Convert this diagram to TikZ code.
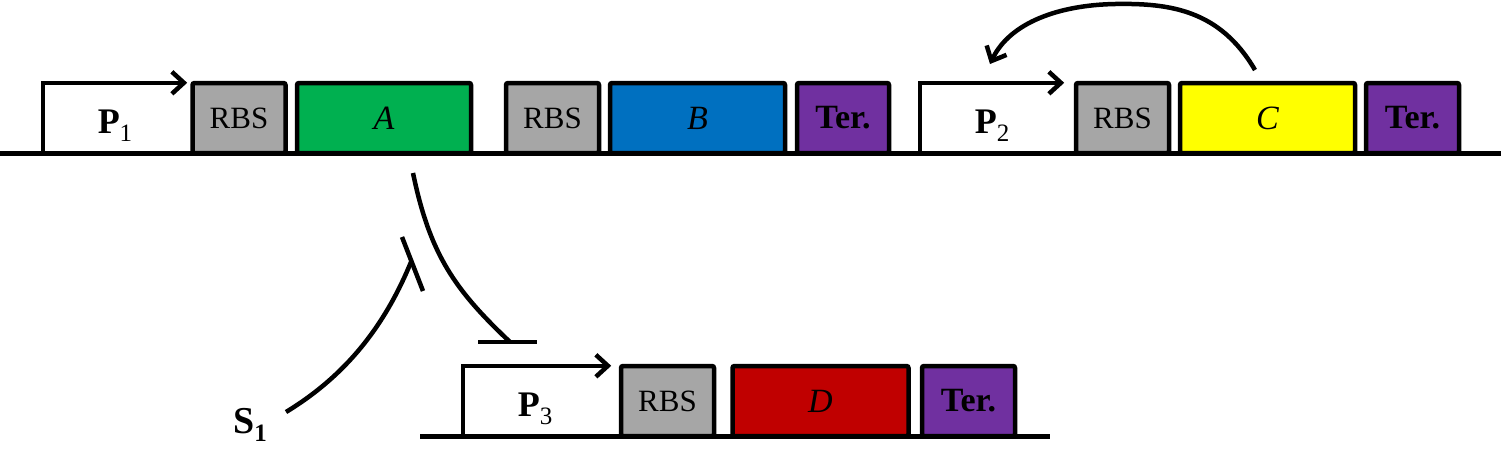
\documentclass[tikz,border=0pt]{standalone}
\usepackage{fontspec}
\setmainfont{Liberation Serif}
\usetikzlibrary{arrows.meta}
\definecolor{rbsgray}{HTML}{A6A6A6}
\definecolor{genegreen}{HTML}{00B050}
\definecolor{geneblue}{HTML}{0070C0}
\definecolor{genered}{HTML}{C00000}
\definecolor{geneyellow}{HTML}{FFFF00}
\definecolor{terpurple}{HTML}{7030A0}
\begin{document}
\begin{tikzpicture}[x=1pt,y=-1pt,
  part/.style={draw, line width=4.5pt, rounded corners=2pt, inner sep=0pt, minimum height=70pt},
  rbsbox/.style={part, fill=rbsgray, minimum width=93pt, font=\fontsize{31}{31}\selectfont},
  genebox/.style={part, minimum width=175pt, font=\fontsize{34}{34}\selectfont\itshape},
  terbox/.style={part, fill=terpurple, minimum width=93pt, font=\fontsize{34}{34}\selectfont\bfseries},
  promarea/.style={inner sep=0pt, minimum height=70pt},
  promlabel/.style={inner sep=0pt, anchor=base, font=\fontsize{36}{36}\selectfont\bfseries},
  backbone/.style={line width=5pt},
  link/.style={line width=4.5pt},
  chev/.style={-{Straight Barb[length=12pt,width=22pt]}},
]
\useasboundingbox (0,0) rectangle (1501,456);
\newcommand{\psub}[1]{\raisebox{-8pt}{\fontsize{25}{25}\selectfont\mdseries #1}}

% ---- top construct 1
\node[promarea, minimum width=150pt] (p1) at (118,118) {};
\node[rbsbox] (rbs1) at (239,118) {RBS};
\node[genebox, fill=genegreen, minimum width=174pt] (geneA) at (384,118) {A};
\node[rbsbox] (rbs2) at (552.5,118) {RBS};
\node[genebox, fill=geneblue] (geneB) at (697.5,118) {B};
\node[terbox, minimum width=92pt] (ter1) at (843,118) {Ter.};

% ---- top construct 2
\node[promarea, minimum width=156pt] (p2) at (998,118) {};
\node[rbsbox] (rbs3) at (1122.5,118) {RBS};
\node[genebox, fill=geneyellow] (geneC) at (1267.5,118) {C};
\node[terbox] (ter2) at (1412.5,118) {Ter.};

% ---- bottom construct
\node[promarea, minimum width=158pt] (p3) at (542,401) {};
\node[rbsbox] (rbs4) at (667.5,401) {RBS};
\node[genebox, fill=genered, minimum width=176pt] (geneD) at (820.5,401) {D};
\node[terbox] (ter3) at (968.5,401) {Ter.};

% promoter labels
\node[promlabel] (p1lab) at (115,133) {P\psub{1}};
\node[promlabel] (p2lab) at (992,133) {P\psub{2}};
\node[promlabel] (p3lab) at (535,416) {P\psub{3}};

% promoter bent arrows
\draw[link, chev] (p1.south west) -- (p1.north west) -- ([xshift=-6pt]p1.north east);
\draw[link, chev] (p2.south west) -- (p2.north west) -- ([xshift=-12pt]p2.north east);
\draw[link, chev] (p3.south west) -- (p3.north west) -- ([xshift=-10pt]p3.north east);

% backbones
\draw[backbone] (0,153) -- (1501,153);
\draw[backbone] (420,436) -- (1050,436);

% feedback arrow C -> P2
\coordinate (fbstart) at (1255,70);
\coordinate (fbtop) at (1115,4);
\coordinate (fbend) at (990,64);
\draw[link, chev] (fbstart) .. controls (1220,10) and (1170,3) .. (fbtop)
  .. controls (1060,5) and (1010,22) .. (fbend);

% S1 label and activation
\node[inner sep=0pt, anchor=base west, font=\fontsize{38}{38}\selectfont\bfseries] (s1) at (233,433) {S\raisebox{-8pt}{\fontsize{25}{25}\selectfont 1}};
\coordinate (s1start) at (286,412);
\coordinate (actend) at (411,262);
\coordinate (actbarA) at (402,237);
\coordinate (actbarB) at (423,291);
\draw[link] (s1start) .. controls (352,372) and (388,318) .. (actend);
\draw[link] (actbarA) -- (actbarB);

% inhibition A -> P3
\coordinate (inhstart) at (413,173);
\coordinate (inhend) at (510,342);
\coordinate (inhbarA) at (478,342);
\coordinate (inhbarB) at (537,342);
\draw[link] (inhstart) .. controls (430,255) and (455,290) .. (inhend);
\draw[link] (inhbarA) -- (inhbarB);
\end{tikzpicture}
\end{document}
